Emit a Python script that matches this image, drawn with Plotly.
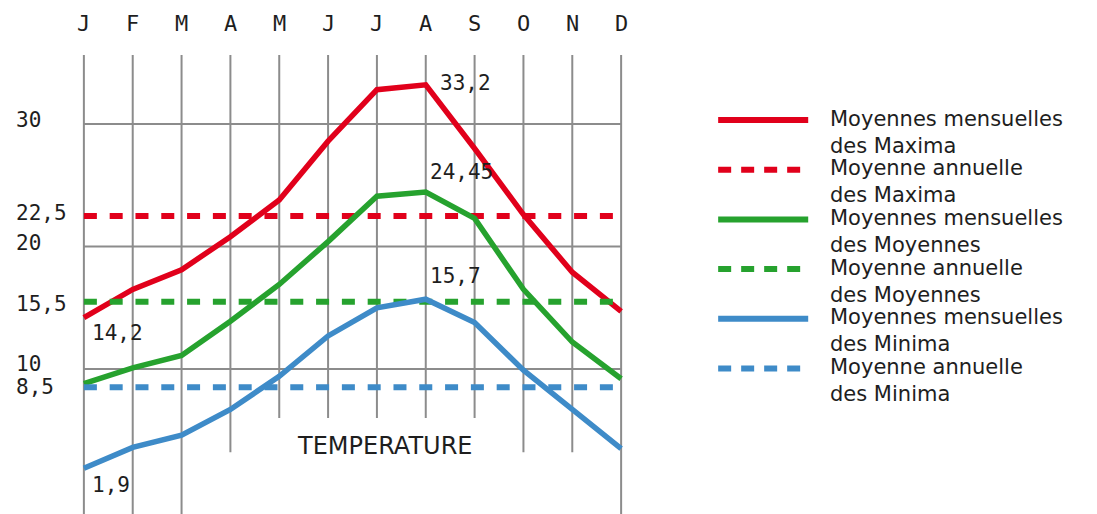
import plotly.graph_objects as go

# ---- data ----
months = ["J", "F", "M", "A", "M", "J", "J", "A", "S", "O", "N", "D"]
tmax = [14.2, 16.5, 18.1, 20.8, 23.8, 28.6, 32.8, 33.2, 28.0, 22.6, 17.9, 14.7]
tmoy = [8.8, 10.1, 11.1, 13.9, 16.9, 20.4, 24.1, 24.45, 22.3, 16.5, 12.2, 9.2]
tmin = [1.9, 3.6, 4.6, 6.7, 9.4, 12.7, 15.0, 15.7, 13.8, 9.9, 6.7, 3.5]
annual_max = 22.5
annual_moy = 15.5
annual_min = 8.5
ytick_vals = [30, 22.5, 20, 15.5, 10, 8.5]
ytick_text = ["30", "22,5", "20", "15,5", "10", "8,5"]
grid_y = [30, 20, 10]
legend_names = [
    "Moyennes mensuelles<br>des Maxima",
    "Moyenne annuelle<br>des Maxima",
    "Moyennes mensuelles<br>des Moyennes",
    "Moyenne annuelle<br>des Moyennes",
    "Moyennes mensuelles<br>des Minima",
    "Moyenne annuelle<br>des Minima",
]

RED = "#e1001b"
GREEN = "#26a22e"
BLUE = "#3e8bc8"
GRID = "#8c8c8c"
TXT = "#1e1e1e"
MONO = "DejaVu Sans Mono"
SANS = "DejaVu Sans"

x = list(range(len(months)))
n = len(months)

# ---- layout geometry (page pixels; page has an 8px body offset) ----
W, H = 1097, 514
OFF = 8
ML, MR, MT, MB = 71.12, 479.12, 47, 8
PW = W - ML - MR
PH = H - MT - MB


def pxx(px):
    return (px - OFF - ML) / PW


def pxy(py):
    return (H - MB - (py - OFF)) / PH


fig = go.Figure()
series = [
    (tmax, RED, "solid"), ([annual_max] * n, RED, "13px,12.8px"),
    (tmoy, GREEN, "solid"), ([annual_moy] * n, GREEN, "13px,12.8px"),
    (tmin, BLUE, "solid"), ([annual_min] * n, BLUE, "13px,12.8px"),
]
for (vals, col, dash), name in zip(series, legend_names):
    fig.add_trace(go.Scatter(
        x=x, y=vals, mode="lines", name=name.replace("<br>", " "),
        line=dict(color=col, width=5.5 if dash == "solid" else 6, dash=dash),
        showlegend=False, hoverinfo="skip"))

# y scale: 12.25 px per unit, plot top at 55px, bottom at 514px (page)
y_top = 35.633
y_bot = -1.837

shapes = []
for gy in grid_y:
    shapes.append(dict(type="line", xref="x", yref="y", x0=0, x1=n - 1, y0=gy, y1=gy,
                       line=dict(color=GRID, width=2), layer="below"))
vend = [y_bot, y_bot, y_bot, 3.2, 6.0, 6.0, 6.0, 6.0, 6.0, 3.2, 3.2, y_bot]
for i in range(n):
    shapes.append(dict(type="line", xref="x", yref="y", x0=i, x1=i, y0=vend[i], y1=y_top,
                       line=dict(color=GRID, width=2), layer="below"))

annotations = []
for i, m in enumerate(months):
    annotations.append(dict(x=i, xref="x", y=1, yref="paper", yshift=32, text=m,
                            showarrow=False, xanchor="center", yanchor="middle",
                            font=dict(family=MONO, size=22, color=TXT)))
y_shift = [4, 3, 4, -2, 5, 0]
for v, t, s in zip(ytick_vals, ytick_text, y_shift):
    annotations.append(dict(x=pxx(14), xref="paper", y=v, yref="y", yshift=s, text=t,
                            showarrow=False, xanchor="left", yanchor="middle",
                            font=dict(family=MONO, size=21, color=TXT)))
peak = tmax.index(max(tmax))
labels = [
    (peak, tmax[peak], 12, 2),
    (peak, tmoy[peak], 2, 20),
    (peak, tmin[peak], 2, 23),
    (0, tmax[0], 6, -15),
    (0, tmin[0], 6, -17),
]
for xi, yv, xs, ys in labels:
    annotations.append(dict(x=xi, xref="x", y=yv, yref="y", xshift=xs, yshift=ys,
                            text=("%g" % yv).replace(".", ","), showarrow=False,
                            xanchor="left", yanchor="middle",
                            font=dict(family=MONO, size=21, color=TXT)))
annotations.append(dict(x=pxx(385), xref="paper", y=pxy(446), yref="paper", text="TEMPERATURE",
                        showarrow=False, xanchor="center", yanchor="middle",
                        font=dict(family=SANS, size=24, color=TXT)))

# manual legend
for k, ((vals, col, dash), name) in enumerate(zip(series, legend_names)):
    py = 120 + 49.7 * k
    yp = pxy(py)
    shapes.append(dict(type="line", xref="paper", yref="paper", x0=pxx(718), x1=pxx(808),
                       y0=yp, y1=yp,
                       line=dict(color=col, width=6, dash="solid" if dash == "solid" else "13px,10px")))
    annotations.append(dict(x=pxx(828), xref="paper", y=yp, yref="paper", yshift=-12, text=name,
                            showarrow=False, xanchor="left", yanchor="middle", align="left",
                            font=dict(family=SANS, size=21, color=TXT)))

fig.update_layout(
    width=W, height=H,
    margin=dict(l=ML, r=MR, t=MT, b=MB, pad=0),
    paper_bgcolor="white", plot_bgcolor="white",
    xaxis=dict(range=[-0.1, n - 1 + 0.1], visible=False, fixedrange=True),
    yaxis=dict(range=[y_bot, y_top], visible=False, fixedrange=True),
    shapes=shapes, annotations=annotations, showlegend=False,
)
fig.write_html("out.html")
